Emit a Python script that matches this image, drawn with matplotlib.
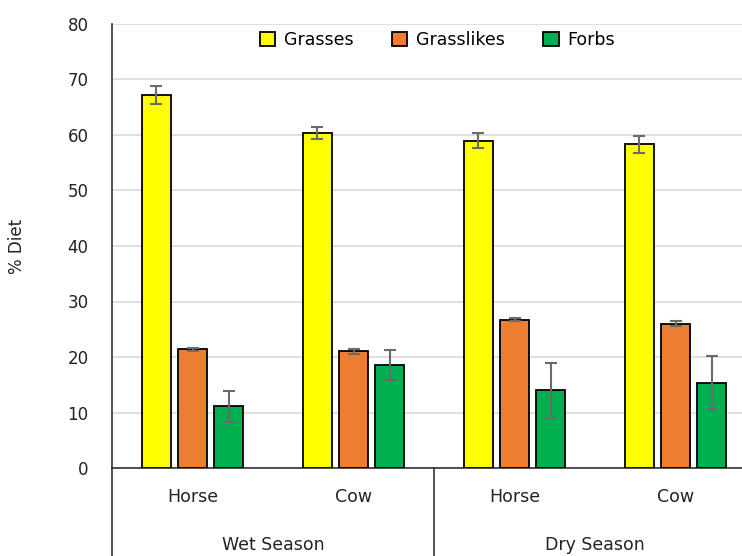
import numpy as np
import matplotlib.pyplot as plt
from matplotlib.transforms import blended_transform_factory

# Data
animals = ['Horse', 'Cow', 'Horse', 'Cow']
seasons = ['Wet Season', 'Dry Season']
series = ['Grasses', 'Grasslikes', 'Forbs']
colors = ['#FFFF00', '#ED7D31', '#00B050']

grasses = [67.2, 60.4, 59.0, 58.3]
grasses_err = [1.7, 1.1, 1.4, 1.5]
grasslikes = [21.4, 21.0, 26.7, 26.0]
grasslikes_err = [0.3, 0.4, 0.3, 0.4]
forbs = [11.1, 18.5, 14.0, 15.4]
forbs_err = [2.8, 2.7, 5.0, 4.8]

values = [grasses, grasslikes, forbs]
errors = [grasses_err, grasslikes_err, forbs_err]

fig = plt.figure(figsize=(7.42, 5.56), dpi=100)
# plot area runs past the right edge, like the cropped original
ax = fig.add_axes([112 / 742, 88 / 556, 644 / 742, 444 / 556])

x = np.arange(len(animals))
slot = 0.224
width = 0.176
for i, (name, vals, errs, col) in enumerate(zip(series, values, errors, colors)):
    ax.bar(x + (i - 1) * slot, vals, width, color=col, edgecolor='black',
           linewidth=1.3, label=name, zorder=3,
           yerr=errs, error_kw=dict(ecolor='#6b6b6b', elinewidth=1.5,
                                    capsize=4, capthick=1.5, zorder=4))

ax.set_xlim(-0.5, len(animals) - 0.5)
ax.set_ylim(0, 80)
ax.set_yticks(np.arange(0, 81, 10))
ax.yaxis.grid(True, color='#d9d9d9', linewidth=1.2, zorder=0)
ax.tick_params(axis='y', length=0, pad=17, labelsize=12, colors='#222222')
ax.set_xticks([])

for s in ['top', 'right']:
    ax.spines[s].set_visible(False)
ax.spines['left'].set_color('#333333')
ax.spines['bottom'].set_color('#333333')
ax.spines['left'].set_linewidth(1.2)
ax.spines['bottom'].set_linewidth(1.2)

ax.set_ylabel('% Diet', fontsize=12, labelpad=30, color='#222222')

# two-level category axis below the plot
tr = blended_transform_factory(ax.transData, ax.transAxes)
for xi, name in zip(x, animals):
    ax.text(xi, -0.065, name, transform=tr, ha='center', va='center',
            fontsize=12.5, color='#222222')
for k, season in enumerate(seasons):
    ax.text(2 * k + 0.5, -0.173, season, transform=tr, ha='center',
            va='center', fontsize=12.5, color='#222222')
for xb in [-0.5, 1.5, 3.5]:
    ax.plot([xb, xb], [0, -0.3], transform=tr, color='#333333',
            linewidth=1.2, clip_on=False)

leg = ax.legend(loc='upper center', bbox_to_anchor=(0.505, 1.02), ncol=3,
                frameon=False, fontsize=12.5, handlelength=0.9,
                handleheight=0.9, columnspacing=2.2, handletextpad=0.5)

fig.savefig('out.png', dpi=100)
